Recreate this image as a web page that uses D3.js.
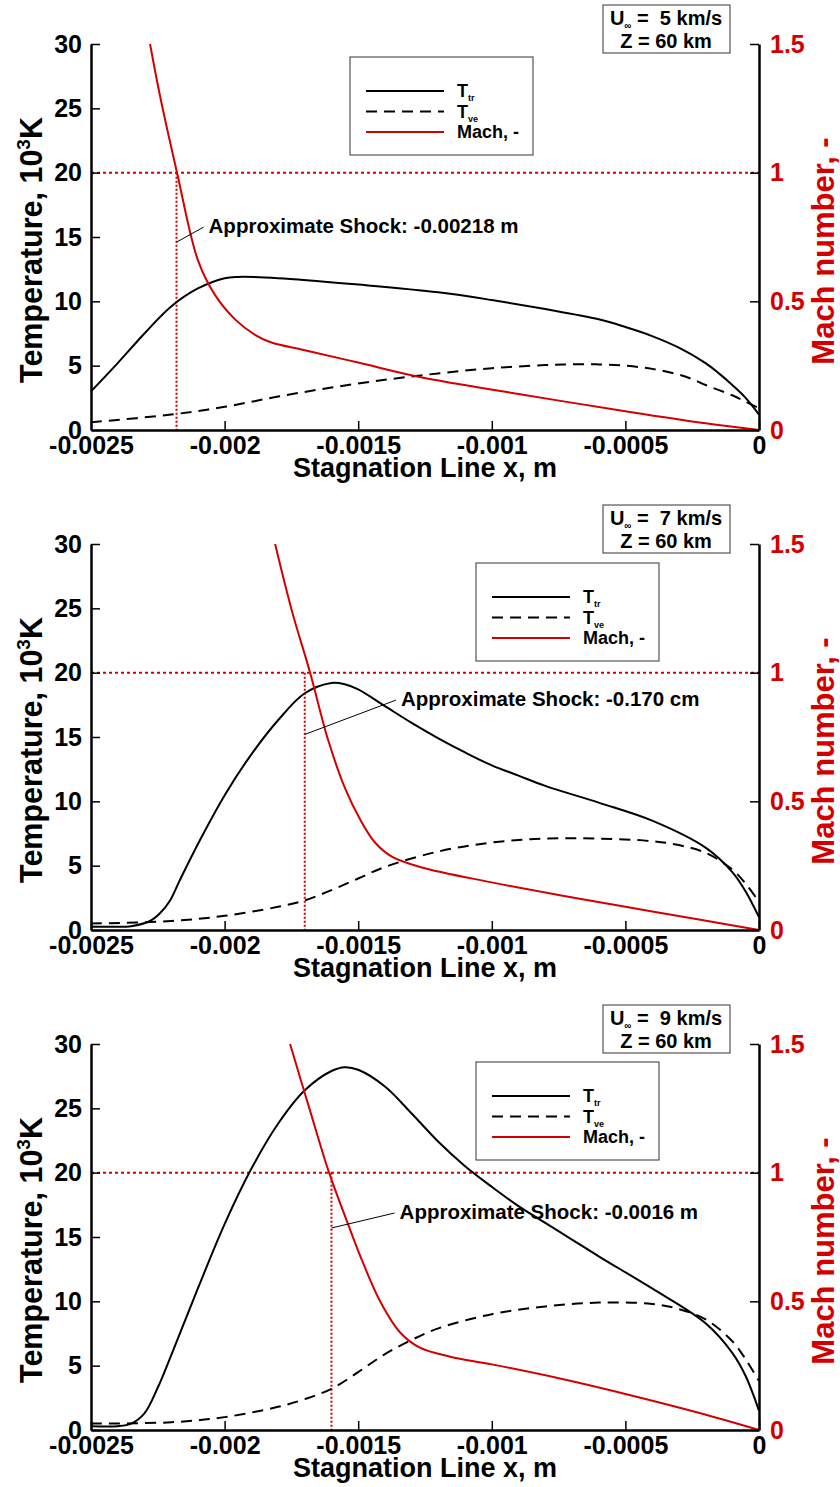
<!DOCTYPE html>
<html>
<head>
<meta charset="utf-8">
<script src="https://cdn.jsdelivr.net/npm/d3@7"></script>
<style>
  body { margin: 0; background: #fff; }
  svg text { font-family: "Liberation Sans", Arial, Helvetica, sans-serif; font-weight: bold; }
</style>
</head>
<body>
<svg id="chart" width="840" height="1487"></svg>
<script>
// axis ticks
var xTicks = [-0.0025, -0.002, -0.0015, -0.001, -0.0005, 0];
var xTickLabels = ["-0.0025", "-0.002", "-0.0015", "-0.001", "-0.0005", "0"];
var tempTicks = [0, 5, 10, 15, 20, 25, 30];
var machTicks = [0, 0.5, 1, 1.5];
var machTickLabels = ["0", "0.5", "1", "1.5"];

// free stream conditions
var speeds = ["5", "7", "9"];
var altitude = "60";

// U = 5 km/s
var ttr5X = [-0.0025, -0.0024, -0.0023, -0.0022, -0.0021, -0.002, -0.00195, -0.0018, -0.0015, -0.0012, -0.001, -0.0008, -0.0006, -0.0005, -0.0004, -0.0003, -0.0002, -0.00015, -0.0001, -0.00005, 0];
var ttr5 = [3.0, 5.2, 7.5, 9.6, 11.0, 11.8, 11.9, 11.8, 11.3, 10.7, 10.1, 9.4, 8.6, 8.0, 7.3, 6.4, 5.2, 4.4, 3.5, 2.5, 1.2];
var tve5X = [-0.0025, -0.0022, -0.002, -0.0018, -0.0016, -0.0014, -0.0012, -0.001, -0.0008, -0.0007, -0.0006, -0.0005, -0.0004, -0.0003, -0.00025, -0.0002, -0.0001, -0.00005, 0];
var tve5 = [0.6, 1.2, 1.8, 2.6, 3.3, 3.9, 4.4, 4.8, 5.05, 5.1, 5.1, 5.0, 4.75, 4.3, 3.95, 3.5, 2.7, 2.2, 1.7];
var mach5X = [-0.002279, -0.002242, -0.002178, -0.0021, -0.002036, -0.001961, -0.001886, -0.00183, -0.0017, -0.0015, -0.00127, -0.0009, -0.0005, -0.0002, 0];
var mach5 = [1.5, 1.30, 1.0, 0.66, 0.525, 0.43, 0.37, 0.342, 0.31, 0.262, 0.206, 0.14, 0.073, 0.026, 0];

// U = 7 km/s
var ttr7X = [-0.0025, -0.0024, -0.00235, -0.002279, -0.002242, -0.002204, -0.002167, -0.002092, -0.001999, -0.001905, -0.0018, -0.0017, -0.0016, -0.00155, -0.0015, -0.0014, -0.0013, -0.0012, -0.0011, -0.001, -0.0009, -0.0008, -0.0006, -0.0004, -0.0002, -0.0001, -0.00005, 0];
var ttr7 = [0.25, 0.25, 0.3, 0.7, 1.3, 2.3, 3.9, 7.0, 10.5, 13.5, 16.3, 18.4, 19.2, 19.1, 18.7, 17.4, 16.1, 14.9, 13.8, 12.8, 12.0, 11.2, 9.9, 8.5, 6.4, 4.5, 3.0, 1.0];
var tve7X = [-0.0025, -0.0022, -0.002, -0.0018, -0.0017, -0.0016, -0.0015, -0.0014, -0.0012, -0.001, -0.0008, -0.0006, -0.0004, -0.0003, -0.0002, -0.0001, -0.00005, 0];
var tve7 = [0.5, 0.7, 1.1, 1.8, 2.3, 3.1, 4.0, 4.9, 6.1, 6.8, 7.1, 7.1, 6.9, 6.6, 6.0, 4.7, 3.6, 2.2];
var mach7X = [-0.001811, -0.001748, -0.00168, -0.001613, -0.001549, -0.001493, -0.001437, -0.001374, -0.001269, -0.001, -0.000745, -0.0005, -0.000219, 0];
var mach7 = [1.5, 1.24, 1.0, 0.74, 0.55, 0.43, 0.34, 0.285, 0.245, 0.185, 0.135, 0.09, 0.04, 0];

// U = 9 km/s
var ttr9X = [-0.0025, -0.0024, -0.00235, -0.0023, -0.00225, -0.0022, -0.0021, -0.002, -0.0019, -0.0018, -0.0017, -0.0016, -0.00155, -0.0015, -0.0014, -0.0013, -0.0012, -0.0011, -0.001, -0.0009, -0.0008, -0.0007, -0.0006, -0.0004, -0.0002, -0.0001, -0.00005, 0];
var ttr9 = [0.3, 0.3, 0.5, 1.3, 3.3, 5.8, 11.0, 16.0, 20.3, 23.8, 26.4, 27.9, 28.2, 28.0, 26.7, 24.6, 22.4, 20.5, 18.9, 17.4, 16.1, 14.8, 13.5, 11.0, 8.3, 6.0, 4.2, 1.5];
var tve9X = [-0.0025, -0.0022, -0.002, -0.0018, -0.0017, -0.0016, -0.0015, -0.0014, -0.0013, -0.0012, -0.001, -0.0008, -0.0006, -0.0004, -0.0003, -0.0002, -0.0001, -0.00005, 0];
var tve9 = [0.5, 0.6, 1.0, 1.8, 2.4, 3.2, 4.5, 5.9, 7.0, 7.9, 9.0, 9.6, 9.9, 9.8, 9.4, 8.6, 6.9, 5.5, 3.8];
var mach9X = [-0.001755, -0.00168, -0.001609, -0.001538, -0.001486, -0.001418, -0.001344, -0.001269, -0.001156, -0.001, -0.000745, -0.0005, -0.000219, 0];
var mach9 = [1.5, 1.24, 1.0, 0.80, 0.66, 0.50, 0.38, 0.32, 0.285, 0.255, 0.2, 0.14, 0.065, 0];

// shock annotation
var shockX = [-0.00218, -0.0017, -0.0016];
var shockLabels = ["Approximate Shock: -0.00218 m", "Approximate Shock: -0.170 cm", "Approximate Shock: -0.0016 m"];
var annoAnchorT = [14.6, 15.2, 15.7];
var annoLabelX = [-0.00206, -0.00134, -0.001345];
var annoLabelT = [15.3, 17.4, 16.4];

var legendNames = ["T", "T", "Mach, -"];
var legendSubs = ["tr", "ve", ""];

var ttrX = [ttr5X, ttr7X, ttr9X], ttrY = [ttr5, ttr7, ttr9];
var tveX = [tve5X, tve7X, tve9X], tveY = [tve5, tve7, tve9];
var machX = [mach5X, mach7X, mach9X], machY = [mach5, mach7, mach9];
var legendPos = [[350, 57], [476, 563], [476, 1062]];

var red = "#d40000";
var svg = d3.select("#chart");

speeds.forEach(function(sp, i) {
    var oy = i * 500;
    var x = d3.scaleLinear().domain([-0.0025, 0]).range([91, 759]);
    var yT = d3.scaleLinear().domain([0, 30]).range([430 + oy, 44 + oy]);
    var yM = d3.scaleLinear().domain([0, 1.5]).range([430 + oy, 44 + oy]);
    var g = svg.append("g");

    // reference lines for Mach = 1 and the shock position
    g.append("line")
        .attr("x1", x(-0.0025)).attr("x2", x(0))
        .attr("y1", yM(1)).attr("y2", yM(1))
        .attr("stroke", red).attr("stroke-width", 2)
        .attr("stroke-dasharray", "3,3");
    g.append("line")
        .attr("x1", x(shockX[i])).attr("x2", x(shockX[i]))
        .attr("y1", yM(1)).attr("y2", yM(0))
        .attr("stroke", red).attr("stroke-width", 2)
        .attr("stroke-dasharray", "2,2");

    // curves
    var curve = d3.curveCatmullRom.alpha(0.5);
    var lineT = function(xs, ys) {
        return d3.line().curve(curve)
            .x(function(d, k) { return x(xs[k]); })
            .y(function(d) { return yT(d); })(ys);
    };
    var lineM = d3.line().curve(curve)
        .x(function(d, k) { return x(machX[i][k]); })
        .y(function(d) { return yM(d); });

    g.append("path").attr("d", lineT(tveX[i], tveY[i]))
        .attr("fill", "none").attr("stroke", "#000").attr("stroke-width", 2)
        .attr("stroke-dasharray", "11,7");
    g.append("path").attr("d", lineT(ttrX[i], ttrY[i]))
        .attr("fill", "none").attr("stroke", "#000").attr("stroke-width", 2);
    g.append("path").attr("d", lineM(machY[i]))
        .attr("fill", "none").attr("stroke", red).attr("stroke-width", 2);

    // axes
    var xAxis = g.append("g").attr("transform", "translate(0," + (430 + oy) + ")");
    xAxis.call(d3.axisBottom(x).tickValues(d3.range(-25, 1).map(function(v) { return v * 0.0001; }))
        .tickSize(-6).tickSizeOuter(0).tickFormat(""));
    xAxis.call(d3.axisBottom(x).tickValues(xTicks).tickSize(-9).tickSizeOuter(0).tickPadding(6)
        .tickFormat(function(d, k) { return xTickLabels[k]; }));

    var yAxisL = g.append("g").attr("transform", "translate(91,0)");
    yAxisL.call(d3.axisLeft(yT).tickValues(d3.range(0, 31)).tickSize(-6).tickSizeOuter(0).tickFormat(""));
    yAxisL.call(d3.axisLeft(yT).tickValues(tempTicks).tickSize(-9).tickSizeOuter(0).tickPadding(9)
        .tickFormat(d3.format("d")));

    var yAxisR = g.append("g").attr("transform", "translate(759,0)");
    yAxisR.call(d3.axisRight(yM).tickValues(d3.range(0, 16).map(function(v) { return v / 10; }))
        .tickSize(-6).tickSizeOuter(0).tickFormat(""));
    yAxisR.call(d3.axisRight(yM).tickValues(machTicks).tickSize(-9).tickSizeOuter(0).tickPadding(11)
        .tickFormat(function(d, k) { return machTickLabels[k]; }));

    g.selectAll(".domain").attr("stroke", "#000").attr("stroke-width", 2.5);
    g.selectAll(".tick line").attr("stroke", "#000").attr("stroke-width", 1.5);
    g.selectAll(".tick text").attr("font-size", 25).attr("fill", "#000")
        .style("font-family", "'Liberation Sans', Arial, sans-serif").style("font-weight", "bold");
    yAxisR.selectAll(".tick text").attr("fill", red);

    // axis titles
    g.append("text").attr("x", 425).attr("y", 477 + oy)
        .attr("text-anchor", "middle").attr("font-size", 27)
        .text("Stagnation Line x, m");
    var tl = g.append("text")
        .attr("transform", "translate(42," + (250 + oy) + ") rotate(-90)")
        .attr("text-anchor", "middle").attr("font-size", 30.5);
    tl.append("tspan").text("Temperature, 10");
    tl.append("tspan").attr("font-size", 19).attr("dy", -12).text("3");
    tl.append("tspan").attr("dy", 12).text("K");
    g.append("text")
        .attr("transform", "translate(834," + (251 + oy) + ") rotate(-90)")
        .attr("text-anchor", "middle").attr("font-size", 31).attr("fill", red)
        .text("Mach number, -");

    // shock annotation
    var ax = x(shockX[i]), ay = yT(annoAnchorT[i]);
    var lx = x(annoLabelX[i]), ly = yT(annoLabelT[i]);
    g.append("line")
        .attr("x1", ax).attr("y1", ay).attr("x2", lx - 5).attr("y2", ly - 6)
        .attr("stroke", "#000").attr("stroke-width", 1);
    g.append("text").attr("x", lx).attr("y", ly).attr("font-size", 20.5)
        .text(shockLabels[i]);

    // condition box
    g.append("rect").attr("x", 603).attr("y", 5 + oy).attr("width", 127).attr("height", 48)
        .attr("fill", "#fff").attr("stroke", "#333").attr("stroke-width", 1);
    var t1 = g.append("text").attr("x", 666).attr("y", 25 + oy)
        .attr("text-anchor", "middle").attr("font-size", 20).attr("xml:space", "preserve");
    t1.append("tspan").text("U");
    t1.append("tspan").attr("font-size", 10).attr("dy", 4).text("\u221e");
    t1.append("tspan").attr("dy", -4).text(" =\u00a0 " + sp + " km/s");
    g.append("text").attr("x", 666).attr("y", 48 + oy)
        .attr("text-anchor", "middle").attr("font-size", 20)
        .text("Z = " + altitude + " km");

    // legend
    var lg = g.append("g").attr("transform", "translate(" + legendPos[i][0] + "," + legendPos[i][1] + ")");
    lg.append("rect").attr("width", 183).attr("height", 98)
        .attr("fill", "#fff").attr("stroke", "#333").attr("stroke-width", 1);
    var styles = [{c: "#000", d: null}, {c: "#000", d: "11,7"}, {c: red, d: null}];
    legendNames.forEach(function(nm, k) {
        var yy = 34 + k * 20.5;
        lg.append("line").attr("x1", 16).attr("x2", 94).attr("y1", yy).attr("y2", yy)
            .attr("stroke", styles[k].c).attr("stroke-width", 2)
            .attr("stroke-dasharray", styles[k].d);
        var tx = lg.append("text").attr("x", 107).attr("y", yy + 6).attr("font-size", 18);
        tx.append("tspan").text(nm);
        if (legendSubs[k]) tx.append("tspan").attr("font-size", 9).attr("dy", 4).text(legendSubs[k]);
    });
});
</script>
</body>
</html>
